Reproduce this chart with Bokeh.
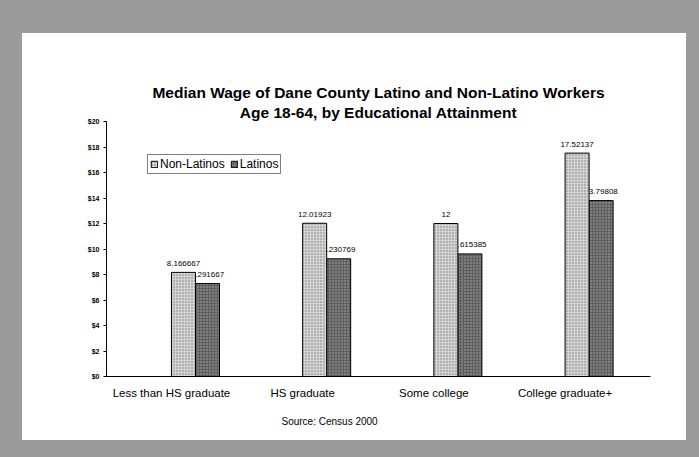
from bokeh.plotting import figure
from bokeh.layouts import column
from bokeh.models import (ColumnDataSource, FixedTicker, Legend, LegendItem, Title, Range1d)
from bokeh.core.properties import value
from bokeh.embed import file_html
from bokeh.resources import INLINE

# ---- data ----
categories = ["Less than HS graduate", "HS graduate", "Some college", "College graduate+"]
non_latinos = [8.166667, 12.01923, 12.0, 17.52137]
latinos = [7.291667, 9.230769, 9.615385, 13.79808]
non_latino_labels = ["8.166667", "12.01923", "12", "17.52137"]
latino_labels = ["7.291667", "9.230769", "9.615385", "13.79808"]
y_ticks = [0, 2, 4, 6, 8, 10, 12, 14, 16, 18, 20]
y_tick_labels = ["$0", "$2", "$4", "$6", "$8", "$10", "$12", "$14", "$16", "$18", "$20"]
title_lines = ["Median Wage of Dane County Latino and Non-Latino Workers",
               "Age 18-64, by Educational Attainment"]
source_text = "Source: Census 2000"

FONT = "Liberation Sans"
# white sheet inside the grey scanned border
PAD_L, PAD_T, PAD_R, PAD_B = 22, 33, 13, 17
W, H = 699 - PAD_L - PAD_R, 457 - PAD_T - PAD_B
BL, BR, BT, BB = 84, 36, 88, 64

idx = list(range(len(categories)))
bw = 0.183
src = ColumnDataSource(dict(
    x_nl=[i + bw / 2 for i in idx], x_l=[i + 1.5 * bw for i in idx],
    nl=non_latinos, l=latinos, nl_lab=non_latino_labels, l_lab=latino_labels))

p = figure(width=W, height=H, output_backend="svg", toolbar_location=None,
           x_range=Range1d(-0.495, 3.651), y_range=Range1d(0, 20),
           min_border_left=BL, min_border_right=BR, min_border_top=BT, min_border_bottom=BB,
           border_fill_color="white", background_fill_color="white",
           styles={"background-color": "white"})
p.outline_line_color = None
p.grid.visible = False

r_l = p.vbar(x="x_l", top="l", width=bw, source=src, fill_color="#5e5e5e",
             hatch_pattern="dot", hatch_color="#b4b4b4", hatch_scale=3, hatch_weight=1,
             line_color="black", line_width=1)
p.text(x="x_l", y="l", text="l_lab", source=src, text_font=value(FONT), text_font_size="8px",
       text_align="center", text_baseline="middle", y_offset=-9, text_color="black")
r_nl = p.vbar(x="x_nl", top="nl", width=bw, source=src, fill_color="#d4d4d4",
              hatch_pattern="dot", hatch_color="#7a7a7a", hatch_scale=3, hatch_weight=1,
              line_color="black", line_width=1)
p.text(x="x_nl", y="nl", text="nl_lab", source=src, text_font=value(FONT), text_font_size="8px",
       text_align="center", text_baseline="middle", y_offset=-9, text_color="black")

# axes
p.yaxis.ticker = FixedTicker(ticks=y_ticks)
p.yaxis.major_label_overrides = {t: s for t, s in zip(y_ticks, y_tick_labels)}
p.yaxis.major_label_text_font = FONT
p.yaxis.major_label_text_font_size = "7px"
p.yaxis.major_label_text_font_style = "bold"
p.yaxis.major_label_text_color = "black"
p.yaxis.major_label_standoff = 4
p.yaxis.major_tick_in = 0
p.yaxis.major_tick_out = 3
p.yaxis.major_tick_line_color = "black"
p.yaxis.minor_tick_line_color = None
p.yaxis.axis_line_color = "black"

p.xaxis.ticker = FixedTicker(ticks=idx)
p.xaxis.major_label_overrides = {i: c for i, c in zip(idx, categories)}
p.xaxis.major_label_text_font = FONT
p.xaxis.major_label_text_font_size = "11.5px"
p.xaxis.major_label_text_color = "black"
p.xaxis.major_tick_line_color = None
p.xaxis.minor_tick_line_color = None
p.xaxis.major_label_standoff = 4
p.xaxis.axis_line_color = "black"

# legend
legend = Legend(items=[LegendItem(label="Non-Latinos", renderers=[r_nl]),
                       LegendItem(label="Latinos", renderers=[r_l])],
                location=(41, 202), orientation="horizontal",
                label_text_font=FONT, label_text_font_size="12px", label_text_color="black",
                glyph_width=8, glyph_height=8, label_standoff=2, spacing=5,
                padding=2, margin=0, border_line_color="black", border_line_width=1,
                label_height=13, background_fill_alpha=1.0)
p.add_layout(legend, "center")

# title (two lines) and source note
p.add_layout(Title(text=title_lines[1], align="center", text_font=FONT, text_font_size="15.5px",
                   text_font_style="bold", text_color="black", standoff=2), "above")
p.add_layout(Title(text=title_lines[0], align="center", text_font=FONT, text_font_size="15.5px",
                   text_font_style="bold", text_color="black", standoff=0), "above")
p.add_layout(Title(text=source_text, align="left", offset=175, text_font=FONT,
                   text_font_size="10px", text_font_style="normal", text_color="black",
                   standoff=25), "below")

layout = column(p, styles={"background-color": "#9b9b9b",
                           "padding": f"{PAD_T}px {PAD_R}px {PAD_B}px {PAD_L}px"})

open("out.html", "w").write(file_html(layout, INLINE))
